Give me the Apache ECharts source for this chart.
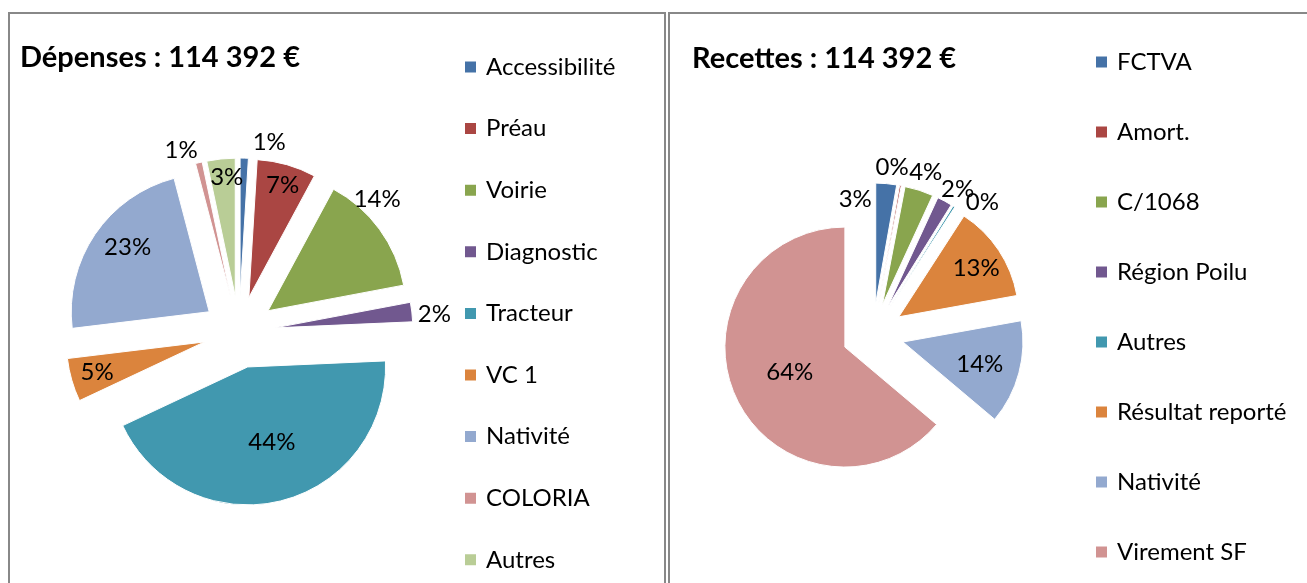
<!DOCTYPE html>
<html>
<head>
<meta charset="utf-8">
<script src="https://cdn.jsdelivr.net/npm/echarts@6/dist/echarts.min.js"></script>
<style>
  html, body { margin: 0; padding: 0; background: #fff; }
  #chart { width: 1307px; height: 583px; }
</style>
</head>
<body>
<div id="chart"></div>
<script>
// Dépenses (left pie)
const depensesNames = ['Accessibilité', 'Préau', 'Voirie', 'Diagnostic', 'Tracteur', 'VC 1', 'Nativité', 'COLORIA', 'Autres'];
const depensesValues = [1100, 7900, 16200, 2600, 50000, 5800, 26100, 900, 3792];
const depensesColors = ['#4572A7', '#AA4643', '#89A54E', '#71588F', '#4198AF', '#DB843D', '#93A9CF', '#D19392', '#B9CD96'];

// Recettes (right pie)
const recettesNames = ['FCTVA', 'Amort.', 'C/1068', 'Région Poilu', 'Autres', 'Résultat reporté', 'Nativité', 'Virement SF'];
const recettesValues = [3200, 250, 4400, 2300, 300, 14900, 16000, 73042];
const recettesColors = ['#4572A7', '#AA4643', '#89A54E', '#71588F', '#4198AF', '#DB843D', '#93A9CF', '#D19392'];

const FONT = 'Lato';

// label nudges from the centred slice position to where Excel put them ("best fit")
const depLabelOffsets = [[27, -82], [14, -43], [51, -69], [88, -5], [7, 5], [-38, 10], [-22, -24], [-33, -77], [-1, -47]];
const recLabelOffsets = [[-26, -41], [2, -74], [24, -72], [40, -62], [59, -52], [25, -14], [16, 6], [2, -1]];

function pieData(names, values, colors) {
  return names.map((n, i) => ({
    name: n,
    value: values[i],
    selected: true,
    itemStyle: { color: colors[i] }
  }));
}

function legendData(names, colors) {
  return names.map((n, i) => ({ name: n, itemStyle: { color: colors[i] } }));
}

function nudge(offsets) {
  return (p) => ({ dx: offsets[p.dataIndex][0], dy: offsets[p.dataIndex][1], hideOverlap: false });
}

const legendBase = {
  orient: 'vertical',
  icon: 'rect',
  itemWidth: 13,
  itemHeight: 13,
  padding: 0,
  height: 580,
  selectedMode: false,
  textStyle: { fontFamily: FONT, fontSize: 24, color: '#000', lineHeight: 30, padding: [0, 0, 0, 4] }
};

const pieBase = {
  type: 'pie',
  startAngle: 90,
  clockwise: true,
  selectedMode: 'multiple',
  avoidLabelOverlap: false,
  minShowLabelAngle: 0,
  percentPrecision: 0,
  label: {
    position: 'inside',
    formatter: '{d}%',
    fontFamily: FONT,
    fontSize: 24,
    color: '#000'
  },
  labelLine: { show: false },
  itemStyle: { borderColor: '#fff', borderWidth: 1 },
  emphasis: { disabled: true },
  select: { itemStyle: { borderColor: '#fff', borderWidth: 1 } }
};

const chart = echarts.init(document.getElementById('chart'), null, { renderer: 'canvas' });

chart.setOption({
  animation: false,
  backgroundColor: '#fff',
  graphic: [
    {
      type: 'polyline',
      shape: { points: [[9, 600], [9, 13], [665, 13], [665, 600]] },
      style: { stroke: '#888', lineWidth: 2, fill: null }
    },
    {
      type: 'polyline',
      shape: { points: [[669, 600], [669, 13], [1320, 13]] },
      style: { stroke: '#888', lineWidth: 2, fill: null }
    }
  ],
  title: [
    {
      text: 'Dépenses : 114 392 €',
      left: 20,
      top: 43,
      padding: 0,
      textStyle: { fontFamily: FONT, fontWeight: 'bold', fontSize: 29, color: '#000' }
    },
    {
      text: 'Recettes : 114 392 €',
      left: 692,
      top: 44,
      padding: 0,
      textStyle: { fontFamily: FONT, fontWeight: 'bold', fontSize: 29, color: '#000' }
    }
  ],
  legend: [
    Object.assign({}, legendBase, {
      left: 463,
      top: 52,
      itemGap: 31.6,
      data: legendData(depensesNames, depensesColors)
    }),
    Object.assign({}, legendBase, {
      left: 1094,
      top: 47,
      itemGap: 40,
      data: legendData(recettesNames, recettesColors)
    })
  ],
  series: [
    Object.assign({}, pieBase, {
      name: 'Dépenses',
      center: [239, 332],
      radius: 138,
      selectedOffset: 36,
      labelLayout: nudge(depLabelOffsets),
      data: pieData(depensesNames, depensesValues, depensesColors)
    }),
    Object.assign({}, pieBase, {
      name: 'Recettes',
      center: [873, 334],
      radius: 120,
      selectedOffset: 31,
      labelLayout: nudge(recLabelOffsets),
      data: pieData(recettesNames, recettesValues, recettesColors)
    })
  ]
});
</script>
</body>
</html>
